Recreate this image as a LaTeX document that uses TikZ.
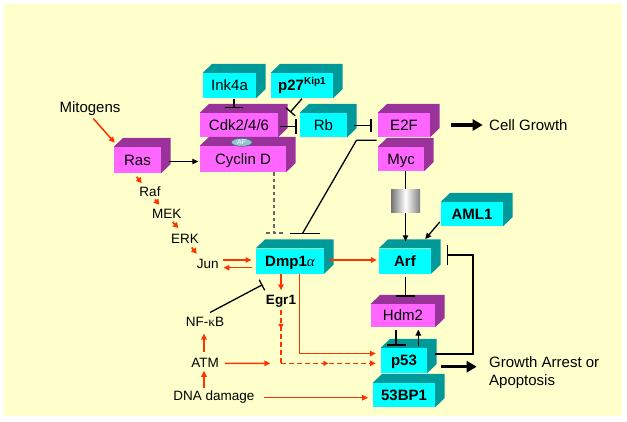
\documentclass[tikz,border=0pt]{standalone}
\usepackage{fontspec}
\setmainfont{Liberation Sans}
\newfontfamily\serf{Liberation Serif}
\usetikzlibrary{arrows.meta,calc,shapes.geometric,decorations.markings}
\definecolor{bgy}{RGB}{255,255,204}
\definecolor{cyf}{RGB}{0,255,255}
\definecolor{cyd}{RGB}{0,153,153}
\definecolor{mgf}{RGB}{255,102,255}
\definecolor{mgd}{RGB}{153,51,153}
\definecolor{rd}{RGB}{255,51,0}
\definecolor{afc}{RGB}{150,195,205}
\definecolor{afd}{RGB}{70,100,120}
\newcommand\cubenode[8]{%
  \node[boxface, minimum width=#4pt, minimum height=#5pt, fill=#6] (#1) at (#2,#3) {#8};
  \fill[#7] (#1.north west) -- ++(9.3,-9) -- ($(#1.north east)+(9.3,-9)$) -- ($(#1.south east)+(9.3,-9)$) -- (#1.south east) -- (#1.north east) -- cycle;}
\begin{document}
\begin{tikzpicture}[x=1pt,y=-1pt,
  boxface/.style={rectangle, inner sep=0pt, font=\fontsize{15}{18}\selectfont, text height=10.7pt, text depth=0pt},
  lbl/.style={inner sep=0pt, font=\fontsize{13.5}{16}\selectfont, text height=9.7pt, text depth=0pt},
  lblb/.style={lbl, font=\fontsize{13.5}{16}\selectfont\bfseries},
  lblbig/.style={inner sep=0pt, font=\fontsize{15}{18.3}\selectfont, text height=10.7pt, text depth=0pt},
  blk/.style={line width=1.3pt, black},
  inh/.style={blk, -{Bar[width=#1]}},
  barr/.style={blk, -{Triangle[length=6pt,width=5.5pt]}},
  rarr/.style={line width=1.5pt, rd, -{Triangle[length=6pt,width=5.5pt]}},
  rsmall/.style={line width=1.8pt, rd, -{Triangle[length=5.5pt,width=6pt]}},
  rdash/.style={line width=1.5pt, rd, dash pattern=on 4.5pt off 3.5pt},
  midarr/.style={postaction={decorate}, decoration={markings, mark=at position #1 with {\arrow{Triangle[length=5pt,width=5pt]}}}},
  gdash/.style={line width=1.3pt, black!60, dash pattern=on 3.5pt off 3pt},
  fatarr/.style={line width=3.2pt, black, -{Triangle[length=10pt,width=11pt]}},
  gradbox/.style={rectangle, inner sep=0pt, left color=black!55, right color=black!50, middle color=white}
]
\useasboundingbox (0,0) rectangle (627,421);
\fill[white] (0,0) rectangle (627,421);
\fill[bgy] (3.5,4) rectangle (622,415.5);

% boxes
\cubenode{ink4a}{229.5}{85.5}{53}{25}{cyf}{cyd}{Ink4a}
\cubenode{p27}{302}{85.5}{62}{25}{cyf}{cyd}{\textbf{p27\raisebox{0.42em}{\fontsize{10}{10}\selectfont Kip1}}}
\cubenode{cdk}{239}{125}{78}{24}{mgf}{mgd}{Cdk2/4/6}
\cubenode{rb}{323.5}{125}{47}{24}{cyf}{cyd}{Rb}
\cubenode{cyc}{243}{159}{86}{26}{mgf}{mgd}{Cyclin D}
\cubenode{ras}{137.5}{160}{47}{26}{mgf}{mgd}{Ras}
\cubenode{e2f}{404}{125}{52}{24}{mgf}{mgd}{E2F}
\cubenode{myc}{401}{159}{46}{24}{mgf}{mgd}{Myc}
\cubenode{aml1}{472}{214}{62}{24}{cyf}{cyd}{\textbf{AML1}}
\cubenode{dmp}{290}{261}{68}{25}{cyf}{cyd}{\textbf{Dmp1}{\serf\itshape α}}
\cubenode{arf}{405}{261}{52}{25}{cyf}{cyd}{\textbf{Arf}}
\cubenode{hdm2}{403}{315.5}{64}{23}{mgf}{mgd}{Hdm2}
\cubenode{p53}{404}{360.5}{46}{25}{cyf}{cyd}{\textbf{p53}}
\cubenode{bp1}{404}{395}{62}{24}{cyf}{cyd}{\textbf{53BP1}}
\node[ellipse, fill=afc, draw=afd, line width=0.6pt, inner sep=0pt, minimum width=21pt, minimum height=8pt, font=\fontsize{7}{7}\selectfont, text=white] (af) at (241.7,142.3) {AF};
\node[gradbox, minimum width=29pt, minimum height=23.4pt] (grad) at (405.5,201) {};

% text labels
\node[lblbig] (mit) at (90,107) {Mitogens};
\node[lblbig, anchor=west] (cg) at (489,125) {Cell Growth};
\node[inner sep=0pt, font=\fontsize{15}{18.3}\selectfont, anchor=west, align=left] (grow) at (489,372.5) {Growth Arrest or\\Apoptosis};
\node[lbl] (raf) at (150,191.7) {Raf};
\node[lbl] (mek) at (166.7,214) {MEK};
\node[lbl] (erk) at (185,239) {ERK};
\node[lbl] (jun) at (207.7,263.3) {Jun};
\node[lblb] (egr1) at (281,299.3) {Egr1};
\node[lbl] (nfkb) at (205,321.7) {NF-{\serf κ}B};
\node[lbl] (atm) at (205,362.7) {ATM};
\node[lbl] (dna) at (214,396) {DNA damage};

% connectors
\draw[rarr] ($(mit.south)+(3.3,6)$) -- ($(ras.north west)+(1,-4)$);
\draw[barr] ($(ras.east)+(7.5,1.5)$) -- ($(cyc.west)+(-1.5,2.5)$);
\draw[rsmall] ($(ras.south)+(-0.8,3.7)$) -- ($(raf.north)+(-8.3,-3.5)$);
\draw[rsmall] ($(raf.south)+(5,2.75)$) -- ($(mek.north)+(-7.4,-4.15)$);
\draw[rsmall] ($(mek.south)+(6,2.85)$) -- ($(erk.north)+(-6.7,-5.85)$);
\draw[rsmall] ($(erk.south)+(6.7,3.45)$) -- ($(jun.north)+(-11,-4.45)$);
\draw[rarr] ($(jun.east)+(4.7,-3.3)$) -- ($(dmp.west)+(-4.3,-1)$);
\draw[rarr] ($(dmp.west)+(-4.3,6.7)$) -- ($(jun.east)+(4.7,4.4)$);
\draw[rarr] ($(dmp.east)+(5,-1)$) -- ($(arf.west)+(-2,-1)$);
\draw[rarr] (egr1.north |- dmp.south) -- ($(egr1.north)+(0,-4)$);
\coordinate (eg) at ($(egr1.south)+(0,59)$);
\draw[rdash, midarr=0.35] ($(egr1.south)+(0,6)$) -- (eg);
\draw[rdash, midarr=0.5, -{Triangle[length=6pt,width=5.5pt]}] (eg) -- ($(eg -| p53.west)+(-5,0)$);
\draw[rarr] ($(atm.east)+(6,0.6)$) -- ($(eg)+(-10.7,0)$);
\draw[rarr] ($(dmp.south)+(9.3,0)$) |- ($(p53.west)+(-5,-7)$);
\draw[rarr] ($(dna.east)+(8.8,1.7)$) -- ($(bp1.west)+(-4.7,2.7)$);
\draw[rarr] ($(atm.south |- dna.north)+(-1,-2.8)$) -- ($(atm.south)+(-1,3)$);
\draw[rarr] ($(atm.north)+(-1,-6)$) -- ($(nfkb.south)+(-1,6.75)$);
\draw[inh=12pt] ($(nfkb.north)+(5,-4.15)$) -- ($(dmp.south west)+(6.7,11)$);
\coordinate (dt) at ($(dmp.north)+(-16,-15.2)$);
\draw[gdash] (cyc.south -| dt) -- (dt);
\draw[gdash] ($(dt)+(-8,0)$) -- ($(dt)+(9,0)$);
\coordinate (bt) at ($(dmp.north)+(15,-14.5)$);
\draw[blk] ($(e2f.south west)+(-1.3,3)$) -- ($(e2f.south west)+(-21.3,3)$) -- ($(bt)+(-2.7,0)$);
\draw[blk] ($(bt)+(-15,0)$) -- ($(bt)+(15,0)$);
\draw[inh=15pt] ($(cdk.east)+(1.3,1.7)$) -- ($(rb.west)+(-3.3,1.7)$);
\draw[inh=13.5pt] ($(rb.east)+(6.3,0.7)$) -- ($(e2f.west)+(-6.3,0.7)$);
\draw[inh=18pt] ($(ink4a.south)+(4.5,0.3)$) -- ($(cdk.north)+(-5,-4.7)$);
\draw[inh=12pt] ($(p27.south)+(0,0.5)$) -- ($(cdk.north east)+(12,-0.5)$);
\draw[blk] (myc.south -| grad.north) -- (grad.north);
\draw[barr] (grad.south) -- ($(arf.north -| grad.south)+(0,-7)$);
\draw[barr] ($(aml1.south west)+(-1,-4.3)$) -- ($(arf.north east)+(-6,-9.2)$);
\draw[inh=19pt] ($(arf.south)+(0.7,3.2)$) -- ($(hdm2.north)+(2.7,-7.3)$);
\draw[inh=19pt] ($(hdm2.south)+(-7,2.5)$) -- ($(p53.north)+(-8,-2.3)$);
\draw[barr] ($(p53.north)+(14.3,-2.3)$) -- ($(hdm2.south)+(15.3,2.5)$);
\draw[inh=20pt] ($(p53.east)+(8,-6.5)$) -| ($(arf.east)+(41.7,-6)$) -- ($(arf.east)+(15.7,-6)$);
\draw[fatarr] ($(p53.east)+(13.7,6.2)$) -- ($(p53.east -| grow.west)+(-12.3,6.2)$);
\draw[fatarr] ($(e2f.east)+(21,0)$) -- ($(cg.west)+(-6.3,0)$);
\end{tikzpicture}
\end{document}
